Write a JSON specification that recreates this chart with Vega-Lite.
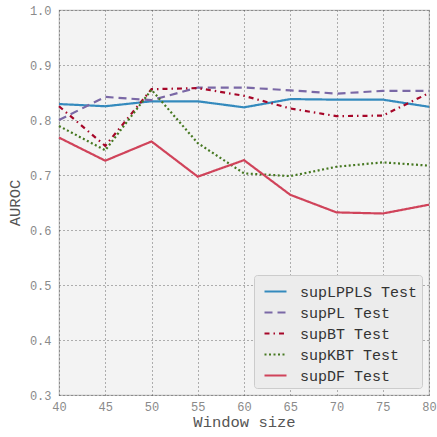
{
  "$schema": "https://vega.github.io/schema/vega-lite/v6.json",
  "width": 370,
  "height": 385,
  "autosize": {"type": "none"},
  "padding": {"left": 59, "top": 10, "right": 8, "bottom": 42},
  "background": "#ffffff",
  "config": {
    "font": "Liberation Mono",
    "view": {"fill": "#f3f3f3", "stroke": "#bcbcbc", "strokeWidth": 1.2},
    "axis": {
      "domain": false,
      "ticks": false,
      "grid": true,
      "gridColor": "#444444",
      "gridDash": [1, 3],
      "gridWidth": 1,
      "gridOpacity": 0.8,
      "labelFont": "Liberation Mono",
      "labelFontSize": 12,
      "labelColor": "#8a8a8a",
      "titleFont": "Liberation Mono",
      "titleFontSize": 15.5,
      "titleFontWeight": "normal",
      "titleColor": "#555555"
    }
  },
  "data": {
    "values": [
      {"w": 40, "s": "supLPPLS Test", "v": 0.829},
      {"w": 45, "s": "supLPPLS Test", "v": 0.825},
      {"w": 50, "s": "supLPPLS Test", "v": 0.834},
      {"w": 55, "s": "supLPPLS Test", "v": 0.834},
      {"w": 60, "s": "supLPPLS Test", "v": 0.823},
      {"w": 65, "s": "supLPPLS Test", "v": 0.838},
      {"w": 70, "s": "supLPPLS Test", "v": 0.837},
      {"w": 75, "s": "supLPPLS Test", "v": 0.837},
      {"w": 80, "s": "supLPPLS Test", "v": 0.824},
      {"w": 40, "s": "supPL Test", "v": 0.800},
      {"w": 45, "s": "supPL Test", "v": 0.842},
      {"w": 50, "s": "supPL Test", "v": 0.836},
      {"w": 55, "s": "supPL Test", "v": 0.859},
      {"w": 60, "s": "supPL Test", "v": 0.859},
      {"w": 65, "s": "supPL Test", "v": 0.854},
      {"w": 70, "s": "supPL Test", "v": 0.848},
      {"w": 75, "s": "supPL Test", "v": 0.853},
      {"w": 80, "s": "supPL Test", "v": 0.853},
      {"w": 40, "s": "supBT Test", "v": 0.825},
      {"w": 45, "s": "supBT Test", "v": 0.753},
      {"w": 50, "s": "supBT Test", "v": 0.856},
      {"w": 55, "s": "supBT Test", "v": 0.858},
      {"w": 60, "s": "supBT Test", "v": 0.844},
      {"w": 65, "s": "supBT Test", "v": 0.821},
      {"w": 70, "s": "supBT Test", "v": 0.807},
      {"w": 75, "s": "supBT Test", "v": 0.808},
      {"w": 80, "s": "supBT Test", "v": 0.849},
      {"w": 40, "s": "supKBT Test", "v": 0.789},
      {"w": 45, "s": "supKBT Test", "v": 0.745},
      {"w": 50, "s": "supKBT Test", "v": 0.855},
      {"w": 55, "s": "supKBT Test", "v": 0.758},
      {"w": 60, "s": "supKBT Test", "v": 0.703},
      {"w": 65, "s": "supKBT Test", "v": 0.698},
      {"w": 70, "s": "supKBT Test", "v": 0.715},
      {"w": 75, "s": "supKBT Test", "v": 0.723},
      {"w": 80, "s": "supKBT Test", "v": 0.717},
      {"w": 40, "s": "supDF Test", "v": 0.768},
      {"w": 45, "s": "supDF Test", "v": 0.726},
      {"w": 50, "s": "supDF Test", "v": 0.761},
      {"w": 55, "s": "supDF Test", "v": 0.697},
      {"w": 60, "s": "supDF Test", "v": 0.727},
      {"w": 65, "s": "supDF Test", "v": 0.664},
      {"w": 70, "s": "supDF Test", "v": 0.632},
      {"w": 75, "s": "supDF Test", "v": 0.630},
      {"w": 80, "s": "supDF Test", "v": 0.646}
    ]
  },
  "mark": {"type": "line", "strokeWidth": 2.2},
  "encoding": {
    "x": {
      "field": "w",
      "type": "quantitative",
      "title": "Window size",
      "scale": {"domain": [40, 80], "nice": false, "zero": false},
      "axis": {"values": [40, 45, 50, 55, 60, 65, 70, 75, 80], "labelPadding": 6, "titlePadding": 2, "labelFlush": false}
    },
    "y": {
      "field": "v",
      "type": "quantitative",
      "title": "AUROC",
      "scale": {"domain": [0.3, 1.0], "nice": false, "zero": false},
      "axis": {"values": [0.3, 0.4, 0.5, 0.6, 0.7, 0.8, 0.9, 1.0], "format": ".1f", "labelPadding": 8, "titlePadding": 7, "labelFlush": false}
    },
    "color": {
      "field": "s",
      "type": "nominal",
      "sort": ["supLPPLS Test", "supPL Test", "supBT Test", "supKBT Test", "supDF Test"],
      "scale": {
        "domain": ["supLPPLS Test", "supPL Test", "supBT Test", "supKBT Test", "supDF Test"],
        "range": ["#348ABD", "#7A68A6", "#A60628", "#467821", "#D0435A"]
      },
      "legend": {
        "title": null,
        "orient": "bottom-right",
        "offset": 7,
        "padding": 4,
        "symbolOffset": 5,
        "fillColor": "#ececec",
        "strokeColor": "#cccccc",
        "cornerRadius": 3,
        "symbolType": "stroke",
        "symbolSize": 484,
        "symbolStrokeWidth": 2.2,
        "labelFont": "Liberation Mono",
        "labelFontSize": 15,
        "labelColor": "#333333",
        "labelOffset": 12,
        "rowPadding": -3.5
      }
    },
    "strokeDash": {
      "field": "s",
      "type": "nominal",
      "sort": ["supLPPLS Test", "supPL Test", "supBT Test", "supKBT Test", "supDF Test"],
      "scale": {
        "domain": ["supLPPLS Test", "supPL Test", "supBT Test", "supKBT Test", "supDF Test"],
        "range": [[1, 0], [8, 5], [5, 4, 1.5, 4], [2, 2.5], [1, 0]]
      },
      "legend": null
    }
  }
}
